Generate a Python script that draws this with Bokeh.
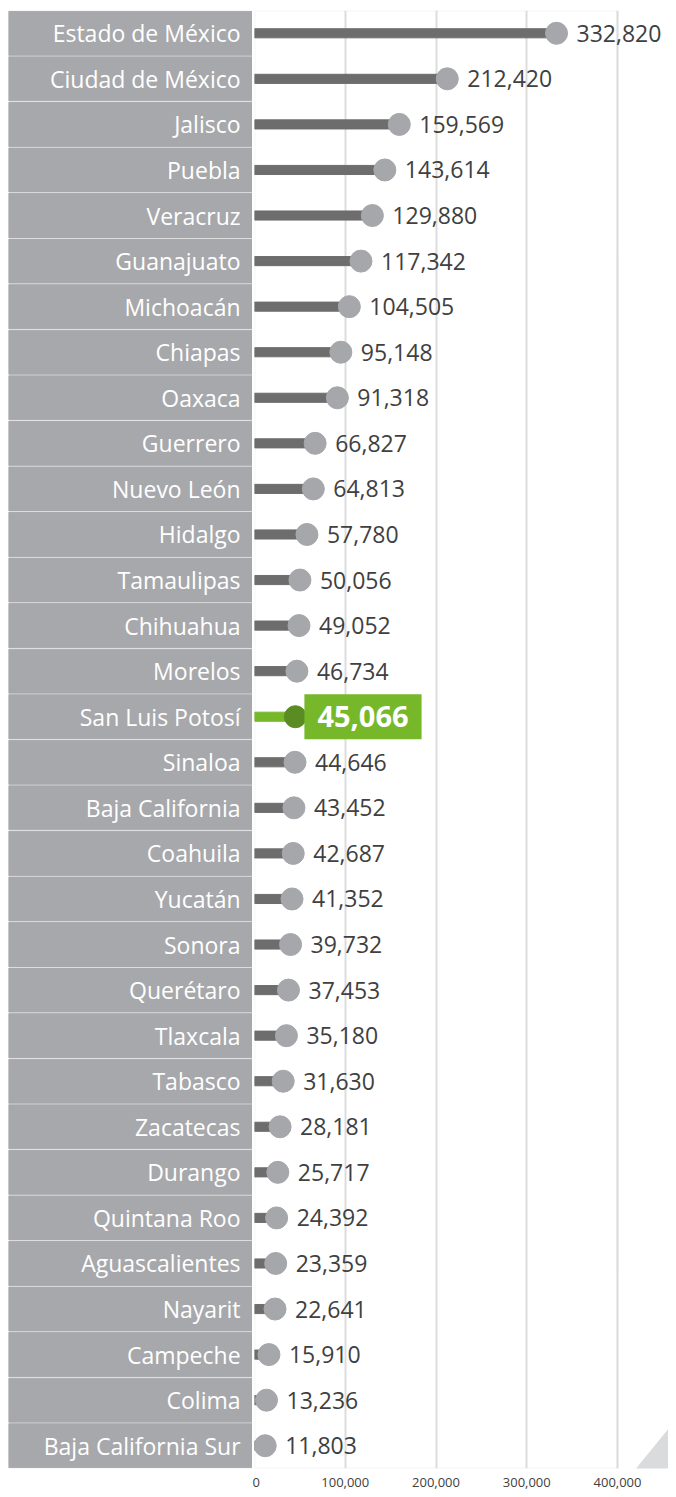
from bokeh.plotting import figure
from bokeh.models import (ColumnDataSource, Range1d, FactorRange, FixedTicker, NumeralTickFormatter,
                          LabelSet, PolyAnnotation, BoxAnnotation)
from bokeh.layouts import row
from bokeh.core.properties import value
from bokeh.embed import file_html
from bokeh.resources import INLINE

states = ["Estado de México", "Ciudad de México", "Jalisco", "Puebla", "Veracruz", "Guanajuato",
          "Michoacán", "Chiapas", "Oaxaca", "Guerrero", "Nuevo León", "Hidalgo", "Tamaulipas",
          "Chihuahua", "Morelos", "San Luis Potosí", "Sinaloa", "Baja California", "Coahuila",
          "Yucatán", "Sonora", "Querétaro", "Tlaxcala", "Tabasco", "Zacatecas", "Durango",
          "Quintana Roo", "Aguascalientes", "Nayarit", "Campeche", "Colima", "Baja California Sur"]
values = [332820, 212420, 159569, 143614, 129880, 117342, 104505, 95148, 91318, 66827, 64813,
          57780, 50056, 49052, 46734, 45066, 44646, 43452, 42687, 41352, 39732, 37453, 35180,
          31630, 28181, 25717, 24392, 23359, 22641, 15910, 13236, 11803]
highlight = "San Luis Potosí"
x_ticks = [0, 100000, 200000, 300000, 400000]

FONT = "Open Sans"
W_TOTAL, H = 668, 1489
PAD = 8
W_LEFT = 252
W_RIGHT = W_TOTAL - W_LEFT
GAP = 2
TOP, BOTTOM = 10, 19
AXIS_PX = 363                      # pixel width of 0..400,000
frame_px = W_RIGHT - GAP
x_end = x_ticks[-1] * frame_px / AXIS_PX

others = [(s, v) for s, v in zip(states, values) if s != highlight]
hl = [(s, v) for s, v in zip(states, values) if s == highlight]
src = ColumnDataSource(dict(state=[o[0] for o in others], val=[o[1] for o in others],
                            lbl=[f"{o[1]:,}" for o in others]))
hsrc = ColumnDataSource(dict(state=[h[0] for h in hl], val=[h[1] for h in hl],
                             lbl=[f"{h[1]:,}" for h in hl]))
ysrc = ColumnDataSource(dict(state=states, one=[1] * len(states), pos=[0.951] * len(states)))

yr = FactorRange(factors=list(reversed(states)), range_padding=0)

# left: label boxes
left = figure(width=W_LEFT, height=H, x_range=Range1d(0, 1), y_range=yr,
              output_backend="svg", toolbar_location=None,
              min_border_left=PAD, min_border_right=0, min_border_top=TOP, min_border_bottom=BOTTOM)
left.axis.visible = False
left.grid.visible = False
left.outline_line_color = None
left.hbar(y="state", left=0, right="one", height=0.965, source=ysrc, color="#a7a8ab")
left.text(x="pos", y="state", text="state", source=ysrc, text_align="right", text_baseline="middle",
          text_color="white", text_font=value(FONT), text_font_size="23px")

# right: lollipops
p = figure(width=W_RIGHT, height=H, x_range=Range1d(0, x_end), y_range=yr,
           output_backend="svg", toolbar_location=None,
           min_border_left=GAP, min_border_right=0, min_border_top=TOP, min_border_bottom=BOTTOM)
p.yaxis.visible = False
p.ygrid.visible = False
p.xgrid.ticker = FixedTicker(ticks=x_ticks)
p.xgrid.grid_line_color = "#dcdcdc"
p.xgrid.grid_line_width = 2
p.outline_line_color = None
p.add_layout(BoxAnnotation(left=x_ticks[0], right=x_ticks[-1], fill_color=None, fill_alpha=0,
                           line_color="#dcdcdc", line_width=2, level="underlay"))
p.xaxis.ticker = FixedTicker(ticks=x_ticks)
p.xaxis.formatter = NumeralTickFormatter(format="0,0")
p.xaxis.axis_line_color = None
p.xaxis.major_tick_line_color = None
p.xaxis.minor_tick_line_color = None
p.xaxis.major_label_standoff = 3
p.xaxis.major_label_text_font = FONT
p.xaxis.major_label_text_font_size = "13px"
p.xaxis.major_label_text_color = "#404040"

# decorative corner triangle (screen units, y measured from the bottom)
tri = PolyAnnotation(xs=[W_RIGHT - 41, W_RIGHT + 8, W_RIGHT + 8], ys=[-8, -8, 52],
                     xs_units="screen", ys_units="screen",
                     fill_color="#dadbdc", fill_alpha=1, line_color=None, level="underlay")
p.add_layout(tri)

p.hbar(y="state", left=0, right="val", height=0.2, source=src, color="#6d6d6d")
p.scatter(x="val", y="state", size=22, source=src, color="#a6a7aa")
p.hbar(y="state", left=0, right="val", height=0.2, source=hsrc, color="#76b82a")
p.scatter(x="val", y="state", size=22, source=hsrc, color="#5b8c23")

labels = LabelSet(x="val", y="state", text="lbl", source=src, x_offset=20, text_align="left",
                  text_baseline="middle", text_color="#404040", text_font=value(FONT),
                  text_font_size="23px")
p.add_layout(labels)

p.text(x="val", y="state", text="lbl", source=hsrc, x_offset=9, text_align="left",
       text_baseline="middle", text_color="white", text_font=value(FONT), text_font_size="29px",
       text_font_style="bold", background_fill_color="#76b82a", padding=(13, 12))

layout = row(left, p)
open("out.html", "w").write(file_html(layout, INLINE))
